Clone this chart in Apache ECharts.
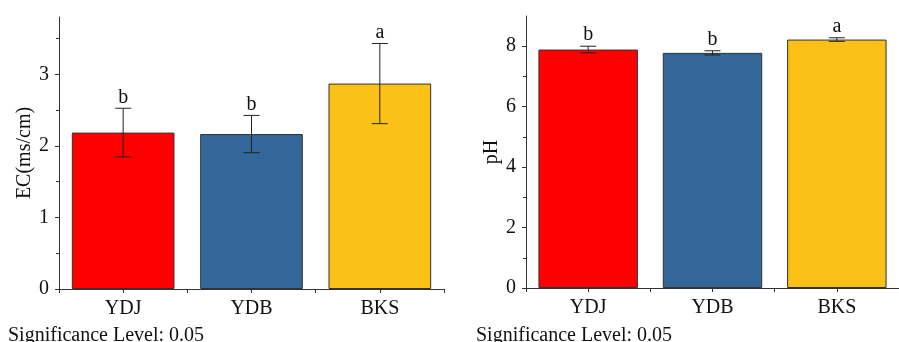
<!DOCTYPE html>
<html>
<head>
<meta charset="utf-8">
<script src="https://cdn.jsdelivr.net/npm/echarts@6/dist/echarts.min.js"></script>
<style>
html,body{margin:0;padding:0;background:#fff;}
#chart{width:899px;height:342px;}
</style>
</head>
<body>
<div id="chart"></div>
<script>
const categories = ['YDJ', 'YDB', 'BKS'];
const ecMeans = [2.185, 2.165, 2.87];
const ecErrors = [0.34, 0.26, 0.56];
const ecLetters = ['b', 'b', 'a'];
const phMeans = [7.89, 7.78, 8.22];
const phErrors = [0.11, 0.07, 0.06];
const phLetters = ['b', 'b', 'a'];
const barColors = ['#FF0000', '#336699', '#FCC116'];
const ecTicks = [0, 1, 2, 3];
const ecMinorTicks = [0.5, 1.5, 2.5, 3.5];
const phTicks = [0, 2, 4, 6, 8];
const phMinorTicks = [1, 3, 5, 7];
const noteText = 'Significance Level: 0.05';

const FONT = "'Liberation Serif', 'Times New Roman', serif";
const FS = 20;
const AX = '#333';

function xAxesFor(gi) {
  return [
    {
      type: 'category', gridIndex: gi, data: categories,
      axisLine: {lineStyle: {color: AX, width: 1}},
      axisTick: {show: true, length: 4, lineStyle: {color: AX}},
      axisLabel: {fontFamily: FONT, fontSize: FS, color: '#111', margin: 10}
    },
    {
      type: 'category', gridIndex: gi, data: categories, position: 'bottom',
      axisLine: {show: false},
      axisTick: {show: true, alignWithLabel: true, length: 4, lineStyle: {color: AX}},
      axisLabel: {show: false}
    }
  ];
}
function yAxesFor(gi, max, ticks, minor, name, gap) {
  return [
    {
      type: 'value', gridIndex: gi, min: 0, max: max, position: 'left',
      name: name, nameLocation: 'middle', nameGap: gap, nameRotate: 90,
      nameTextStyle: {fontFamily: FONT, fontSize: FS, color: '#111'},
      axisLine: {show: true, lineStyle: {color: AX, width: 1}},
      axisTick: {show: true, length: 4, customValues: ticks, lineStyle: {color: AX}},
      axisLabel: {customValues: ticks, fontFamily: FONT, fontSize: FS, color: '#111', margin: 10},
      splitLine: {show: false}
    },
    {
      type: 'value', gridIndex: gi, min: 0, max: max, position: 'left', offset: 0,
      axisLine: {show: false},
      axisTick: {show: true, length: 3, customValues: minor, lineStyle: {color: AX}},
      axisLabel: {show: false},
      splitLine: {show: false}
    }
  ];
}
function barSeries(xi, yi, means) {
  return {
    type: 'bar', xAxisIndex: xi, yAxisIndex: yi, barWidth: '80%',
    data: means.map((v, i) => ({value: v, itemStyle: {color: barColors[i]}})),
    itemStyle: {borderColor: '#333', borderWidth: 1},
    z: 2
  };
}
function errSeries(xi, yi, means, errs, letters) {
  return {
    type: 'custom', xAxisIndex: xi, yAxisIndex: yi, z: 5,
    data: means.map((m, i) => [i, m, errs[i]]),
    renderItem: function (params, api) {
      const i = api.value(0), m = api.value(1), e = api.value(2);
      const top = api.coord([i, m + e]);
      const bot = api.coord([i, m - e]);
      const hw = 8;
      const ls = {stroke: '#222', lineWidth: 1};
      return {
        type: 'group',
        children: [
          {type: 'line', shape: {x1: top[0], y1: top[1], x2: bot[0], y2: bot[1]}, style: ls},
          {type: 'line', shape: {x1: top[0] - hw, y1: top[1], x2: top[0] + hw, y2: top[1]}, style: ls},
          {type: 'line', shape: {x1: bot[0] - hw, y1: bot[1], x2: bot[0] + hw, y2: bot[1]}, style: ls},
          {type: 'text', style: {text: letters[params.dataIndex], x: top[0], y: top[1] - 1,
            align: 'center', verticalAlign: 'bottom', font: FS + 'px ' + FONT, fill: '#111'}}
        ]
      };
    }
  };
}

const chart = echarts.init(document.getElementById('chart'), null, {renderer: 'canvas'});
chart.setOption({
  animation: false,
  backgroundColor: '#fff',
  grid: [
    {left: 59, top: 17, width: 385, height: 272},
    {left: 526, top: 16, width: 386, height: 272}
  ],
  xAxis: [].concat(xAxesFor(0), xAxesFor(1)),
  yAxis: [].concat(
    yAxesFor(0, 3.8, ecTicks, ecMinorTicks, 'EC(ms/cm)', 23),
    yAxesFor(1, 9, phTicks, phMinorTicks, 'pH', 23)
  ),
  series: [
    barSeries(0, 0, ecMeans),
    errSeries(0, 0, ecMeans, ecErrors, ecLetters),
    barSeries(2, 2, phMeans),
    errSeries(2, 2, phMeans, phErrors, phLetters)
  ],
  graphic: [
    {type: 'text', left: 8, top: 326, style: {text: noteText, font: FS + 'px ' + FONT, fill: '#111'}},
    {type: 'text', left: 476, top: 326, style: {text: noteText, font: FS + 'px ' + FONT, fill: '#111'}}
  ]
});
</script>
</body>
</html>
